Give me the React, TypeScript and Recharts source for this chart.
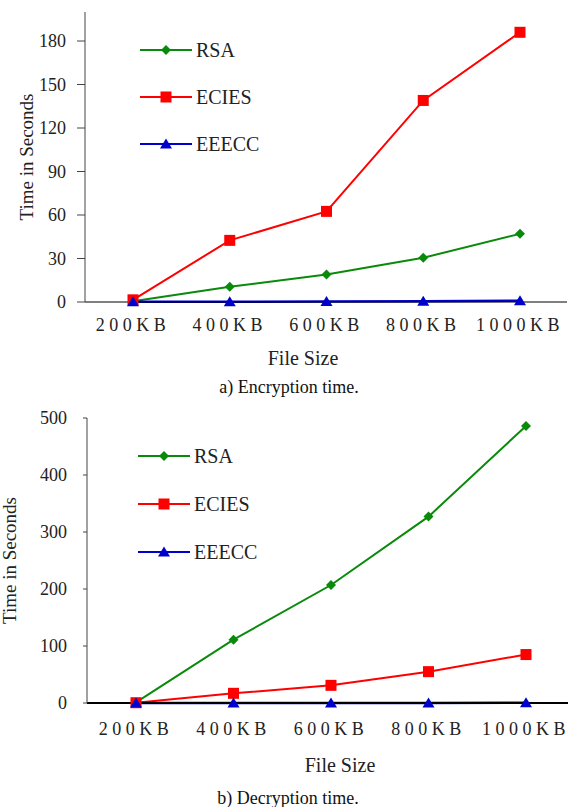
import { LineChart, Line, XAxis, YAxis, Legend, Label } from 'recharts';

const fileSizes = ['200KB', '400KB', '600KB', '800KB', '1000KB'];

// a) encryption time, seconds
const encRsa = [0.5, 10.5, 19, 30.5, 47];
const encEcies = [1.5, 42.5, 62.5, 139, 186];
const encEeecc = [0.2, 0.2, 0.3, 0.6, 0.9];
const encTicks = [0, 30, 60, 90, 120, 150, 180];

// b) decryption time, seconds
const decRsa = [1, 111, 207, 327, 486];
const decEcies = [0.5, 17, 31, 55, 85];
const decEeecc = [0.2, 0.2, 0.2, 0.2, 0.3];
const decTicks = [0, 100, 200, 300, 400, 500];

const seriesNames = ['RSA', 'ECIES', 'EEECC'];
const seriesColors = ['#0a8a0a', '#ff0000', '#0000cc'];
const seriesMarkers = ['diamond', 'square', 'triangle'];
const seriesWidths = [2, 2, 2.5];

const FONT = "'Times New Roman', Times, 'Liberation Serif', Tinos, 'Noto Serif', 'DejaVu Serif', FreeSerif, Georgia, serif";
const FRAME = '#444';

const buildRows = (rsa: number[], ecies: number[], eeecc: number[]) =>
  fileSizes.map((size, i) => ({ size, RSA: rsa[i], ECIES: ecies[i], EEECC: eeecc[i] }));

function Marker({ kind, cx, cy, color }: { kind: string; cx: number; cy: number; color: string }) {
  if (cx == null || cy == null) return null;
  if (kind === 'diamond') {
    return <path d={`M${cx},${cy - 5}L${cx + 5},${cy}L${cx},${cy + 5}L${cx - 5},${cy}Z`} fill={color} />;
  }
  if (kind === 'square') {
    return <rect x={cx - 5.5} y={cy - 5.5} width={11} height={11} fill={color} />;
  }
  return <path d={`M${cx},${cy - 5.5}L${cx + 6},${cy + 4.5}L${cx - 6},${cy + 4.5}Z`} fill={color} />;
}

// legend keeps the series order (RSA, ECIES, EEECC) instead of recharts' sorted payload
function LegendBox({ rowHeight }: { rowHeight: number }) {
  return (
    <div style={{ fontFamily: FONT }}>
      {seriesNames.map((name, i) => (
        <div key={name} style={{ display: 'flex', alignItems: 'center', height: rowHeight }}>
          <svg width={52} height={14}>
            <line x1={0} y1={7} x2={52} y2={7} stroke={seriesColors[i]} strokeWidth={2} />
            <Marker kind={seriesMarkers[i]} cx={26} cy={7} color={seriesColors[i]} />
          </svg>
          <span style={{ marginLeft: 4, fontSize: 20, color: '#222', lineHeight: 1, fontFamily: FONT }}>{name}</span>
        </div>
      ))}
    </div>
  );
}

function TimeChart({ cfg }: { cfg: any }) {
  const data = buildRows(cfg.rsa, cfg.ecies, cfg.eeecc);
  return (
    <LineChart
      width={cfg.width}
      height={cfg.height}
      data={data}
      margin={{ top: cfg.marginTop, right: cfg.marginRight, bottom: 0, left: 0 }}
      style={{ fontFamily: FONT }}
    >
      <XAxis
        dataKey="size"
        padding={cfg.padding}
        height={cfg.xAxisHeight}
        tickLine={false}
        tickSize={0}
        tickMargin={cfg.xTickMargin}
        axisLine={{ stroke: '#000', strokeWidth: cfg.zeroWidth }}
        tick={{ fill: '#222', fontSize: 18, letterSpacing: 4.5, fontFamily: FONT }}
        interval={0}
      >
        <Label value="File Size" position="insideBottom" offset={cfg.fileOffset} dx={cfg.fileDx} fontSize={20} fill="#222" fontFamily={FONT} />
        <Label value={cfg.caption} position="insideBottom" offset={cfg.captionOffset} dx={cfg.captionDx} fontSize={18} fill="#111" fontFamily={FONT} />
      </XAxis>
      <XAxis xAxisId="top" dataKey="size" orientation="top" height={0} tick={false} tickLine={false} axisLine={{ stroke: FRAME }} />
      <YAxis
        width={cfg.axisWidth}
        domain={[0, cfg.max]}
        ticks={cfg.ticks}
        interval={0}
        tickSize={cfg.tickSize}
        tickMargin={cfg.tickMargin}
        tickLine={{ stroke: FRAME }}
        axisLine={{ stroke: FRAME }}
        tick={{ fill: '#222', fontSize: 18, fontFamily: FONT }}
        label={{
          value: 'Time in Seconds',
          angle: -90,
          position: 'insideLeft',
          offset: cfg.yLabelOffset,
          fontSize: 19,
          fill: '#222',
          fontFamily: FONT,
          style: { textAnchor: 'middle' },
        }}
      />
      {cfg.rightFrame && (
        <YAxis yAxisId="right" orientation="right" width={0} tick={false} tickLine={false} axisLine={{ stroke: FRAME }} />
      )}
      <Legend
        layout="horizontal"
        verticalAlign="middle"
        align="center"
        wrapperStyle={{ left: cfg.legendLeft, top: cfg.legendTop, width: 'auto' }}
        content={() => <LegendBox rowHeight={cfg.legendRow} />}
      />
      {seriesNames.map((name, i) => (
        <Line
          key={name}
          type="linear"
          dataKey={name}
          stroke={seriesColors[i]}
          strokeWidth={seriesWidths[i]}
          isAnimationActive={false}
          dot={(p: any) => <Marker key={`${name}-${p.index}`} kind={seriesMarkers[i]} cx={p.cx} cy={p.cy} color={seriesColors[i]} />}
          activeDot={false}
        />
      ))}
    </LineChart>
  );
}

const encCfg = {
  rsa: encRsa, ecies: encEcies, eeecc: encEeecc, ticks: encTicks, max: 200,
  width: 568, height: 400, marginTop: 12, marginRight: 1, xAxisHeight: 98, axisWidth: 85,
  padding: { left: 48, right: 47 }, xTickMargin: 16, zeroWidth: 1,
  tickSize: 8, tickMargin: 11, yLabelOffset: 26, rightFrame: true,
  fileOffset: 35, fileDx: -23, caption: 'a) Encryption time.', captionOffset: 7, captionDx: -37,
  legendLeft: 140, legendTop: 26, legendRow: 47,
};

const decCfg = {
  rsa: decRsa, ecies: decEcies, eeecc: decEeecc, ticks: decTicks, max: 500,
  width: 575, height: 407, marginTop: 18, marginRight: 0, xAxisHeight: 104, axisWidth: 87,
  padding: { left: 49, right: 49 }, xTickMargin: 19, zeroWidth: 2,
  tickSize: 4, tickMargin: 16, yLabelOffset: 9, rightFrame: false,
  fileOffset: 35, fileDx: 9, caption: 'b) Decryption time.', captionOffset: 3, captionDx: -43,
  legendLeft: 138, legendTop: 32, legendRow: 48,
};

export default function App() {
  return (
    <div
      style={{
        position: 'absolute', left: 0, top: 0, width: 568, height: 807,
        overflow: 'hidden', background: '#fff', fontFamily: FONT,
      }}
    >
      <div style={{ position: 'absolute', left: 0, top: 0 }}>
        <TimeChart cfg={encCfg} />
      </div>
      <div style={{ position: 'absolute', left: 0, top: 400 }}>
        <TimeChart cfg={decCfg} />
      </div>
    </div>
  );
}
